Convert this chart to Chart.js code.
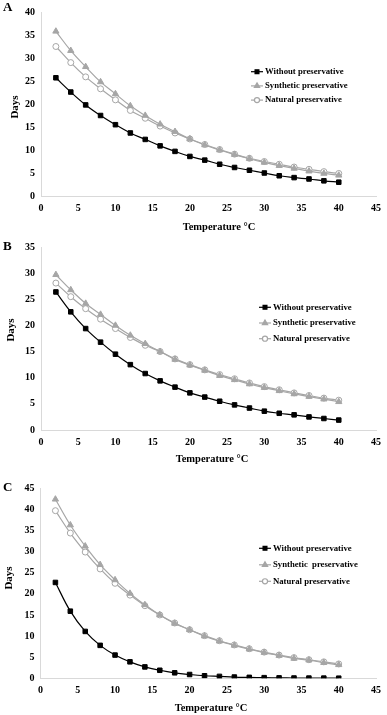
<!DOCTYPE html>
<html>
<head>
<meta charset="utf-8">
<script src="https://cdn.jsdelivr.net/npm/chart.js@4"></script>
<style>
html,body{margin:0;padding:0;background:#fff;}
.panel{position:absolute;left:0;width:387px;}
</style>
</head>
<body>
<div class="panel" style="top:0px;height:235px"><canvas id="cA" width="387" height="235"></canvas></div>
<div class="panel" style="top:235px;height:235px"><canvas id="cB" width="387" height="235"></canvas></div>
<div class="panel" style="top:470px;height:245px"><canvas id="cC" width="387" height="245"></canvas></div>
<script>
// ---- data ----
const temps = [2,4,6,8,10,12,14,16,18,20,22,24,26,28,30,32,34,36,38,40];
const xTicks = [0,5,10,15,20,25,30,35,40,45];
const yTicksA = [0,5,10,15,20,25,30,35,40];
const yTicksB = [0,5,10,15,20,25,30,35];
const yTicksC = [0,5,10,15,20,25,30,35,40,45];

const withoutA   = [25.7,22.6,19.8,17.5,15.5,13.7,12.3,10.9,9.7,8.6,7.8,6.9,6.2,5.6,5.0,4.4,4.0,3.7,3.3,3.0];
const syntheticA = [35.8,31.6,28.1,24.8,22.2,19.6,17.5,15.6,14.0,12.4,11.1,10.0,9.0,8.1,7.3,6.6,6.0,5.4,4.9,4.5];
const naturalA   = [32.5,29.0,25.9,23.3,20.9,18.6,16.9,15.2,13.7,12.4,11.2,10.1,9.1,8.2,7.5,6.9,6.3,5.8,5.3,4.9];

const withoutB   = [26.4,22.6,19.4,16.8,14.5,12.5,10.8,9.4,8.2,7.1,6.3,5.5,4.8,4.2,3.6,3.2,2.9,2.5,2.2,1.9];
const syntheticB = [29.7,26.8,24.2,22.1,20.0,18.1,16.5,15.0,13.5,12.4,11.4,10.4,9.6,8.8,8.1,7.5,6.9,6.4,5.9,5.4];
const naturalB   = [28.1,25.5,23.2,21.2,19.4,17.7,16.2,15.0,13.6,12.5,11.5,10.6,9.8,9.0,8.3,7.7,7.1,6.6,6.1,5.7];

const withoutC   = [22.7,15.9,11.1,7.8,5.5,3.9,2.7,1.9,1.3,0.9,0.6,0.45,0.3,0.22,0.15,0.1,0.07,0.05,0.04,0.03];
const syntheticC = [42.4,36.3,31.3,26.9,23.3,20.1,17.4,15.0,13.0,11.5,10.0,8.8,7.8,6.9,6.1,5.4,4.7,4.3,3.7,3.2];
const naturalC   = [39.7,34.4,29.9,25.9,22.5,19.7,17.2,15.0,13.1,11.5,10.1,8.9,7.9,7.0,6.2,5.5,4.9,4.4,3.9,3.4];

const seriesNamesAB = ['Without preservative','Synthetic preservative','Natural preservative'];
const seriesNamesC  = ['Without preservative','Synthetic  preservative','Natural preservative'];
const xTitle = 'Temperature \u00B0C';
const yTitle = 'Days';

// ---- styling / drawing ----
const SERIF = '"Liberation Serif","Times New Roman",serif';
const styles = [
  {color:'#000000', fill:'#000000', pointStyle:'rect', radius:3.2, lw:1.2},
  {color:'#a6a6a6', fill:'#a6a6a6', pointStyle:'triangle', radius:3.6, lw:1.2},
  {color:'#a6a6a6', fill:'#ffffff', pointStyle:'circle', radius:3.0, lw:1.2}
];

const extras = {
  id:'extras',
  afterDraw(chart, args, o){
    const ctx = chart.ctx;
    ctx.save();
    ctx.fillStyle = '#000';
    // panel letter
    ctx.font = 'bold 13px ' + SERIF;
    ctx.textAlign = 'left'; ctx.textBaseline = 'middle';
    ctx.fillText(o.letter, o.letterPos[0], o.letterPos[1]);
    // x title
    ctx.font = 'bold 10.5px ' + SERIF;
    ctx.textAlign = 'center';
    ctx.fillText(xTitle, o.xTitlePos[0], o.xTitlePos[1]);
    // y title
    ctx.save();
    ctx.translate(o.yTitlePos[0], o.yTitlePos[1]);
    ctx.rotate(-Math.PI/2);
    ctx.font = 'bold 11px ' + SERIF;
    ctx.fillText(yTitle, 0, 0);
    ctx.restore();
    // legend
    chart.data.datasets.forEach((ds, i) => {
      const y = o.legend.y + i*o.legend.gap;
      const x = o.legend.x;
      ctx.strokeStyle = ds.borderColor;
      ctx.lineWidth = 1.2;
      ctx.beginPath(); ctx.moveTo(x, y); ctx.lineTo(x+12, y); ctx.stroke();
      ctx.fillStyle = ds.pointBackgroundColor;
      ctx.strokeStyle = ds.pointBorderColor;
      Chart.helpers.drawPoint(ctx, {pointStyle: ds.pointStyle, radius: ds.pointRadius*0.85, rotation:0, borderWidth:1}, x+6, y);
      ctx.fillStyle = '#000';
      ctx.font = 'bold 8.7px ' + SERIF;
      ctx.textAlign = 'left'; ctx.textBaseline = 'middle';
      ctx.fillText(ds.label, x+14, y);
    });
    ctx.restore();
  }
};

function makeChart(id, H, chartTop, chartBottom, yAxisW, yTicks, series, names, ex){
  const datasets = series.map((vals, i) => ({
    label: names[i],
    data: temps.map((t, k) => ({x: t, y: vals[k]})),
    borderColor: styles[i].color,
    borderWidth: styles[i].lw,
    pointStyle: styles[i].pointStyle,
    pointRadius: styles[i].radius,
    pointBackgroundColor: styles[i].fill,
    pointBorderColor: styles[i].color,
    pointBorderWidth: 1,
    tension: 0.4,
    fill: false
  }));
  // draw order: natural under synthetic? keep black on top
  datasets[0].order = 0; datasets[1].order = 1; datasets[2].order = 2;
  const tickFont = {family: SERIF, size: 10, weight: 'bold'};
  return new Chart(document.getElementById(id), {
    type: 'line',
    data: {datasets},
    options: {
      responsive: false,
      animation: false,
      devicePixelRatio: 1,
      layout: {padding: {top: chartTop, right: 6, left: 0, bottom: 0}},
      plugins: {legend: {display: false}, tooltip: {enabled: false}, extras: ex},
      scales: {
        x: {
          type: 'linear', min: 0, max: 45,
          afterBuildTicks(s){ s.ticks = xTicks.map(v => ({value: v})); },
          afterFit(s){ s.height = H - chartBottom; },
          grid: {display: false, drawTicks: false},
          border: {display: true, color: '#d9d9d9', width: 1},
          ticks: {font: tickFont, color: '#000', padding: 6, maxRotation: 0, autoSkip: false}
        },
        y: {
          type: 'linear', min: 0, max: yTicks[yTicks.length-1],
          afterBuildTicks(s){ s.ticks = yTicks.map(v => ({value: v})); },
          afterFit(s){ s.width = yAxisW; },
          grid: {display: false, drawTicks: false},
          border: {display: true, color: '#d9d9d9', width: 1},
          ticks: {font: tickFont, color: '#000', padding: 6, autoSkip: false}
        }
      }
    },
    plugins: [extras]
  });
}

makeChart('cA', 235, 7, 196, 41, yTicksA, [withoutA, syntheticA, naturalA], seriesNamesAB,
  {letter:'A', letterPos:[3,8], xTitlePos:[219,227], yTitlePos:[15,107], legend:{x:251, y:71.7, gap:14.2}});
makeChart('cB', 235, 9.5, 195, 41, yTicksB, [withoutB, syntheticB, naturalB], seriesNamesAB,
  {letter:'B', letterPos:[3,12], xTitlePos:[212,224], yTitlePos:[11,95], legend:{x:259, y:72.3, gap:15.7}});
makeChart('cC', 245, 18.3, 208.3, 40.5, yTicksC, [withoutC, syntheticC, naturalC], seriesNamesC,
  {letter:'C', letterPos:[3,18], xTitlePos:[211,238], yTitlePos:[9,108], legend:{x:259, y:78.3, gap:16.5}});
</script>
</body>
</html>
